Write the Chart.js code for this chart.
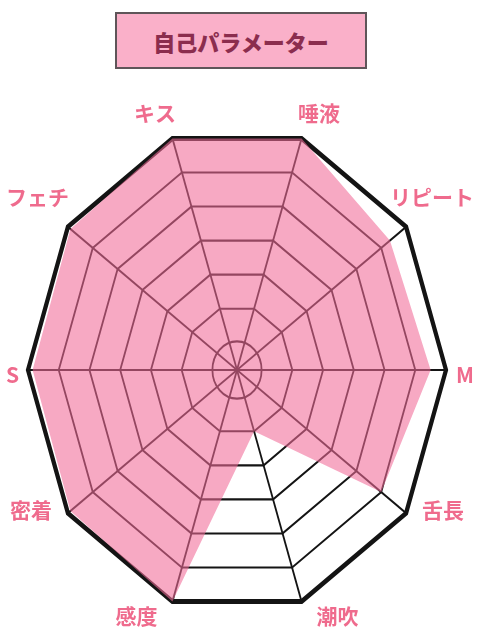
<!DOCTYPE html>
<html>
<head>
<meta charset="utf-8">
<script src="https://cdn.jsdelivr.net/npm/chart.js@4.4.1/dist/chart.umd.min.js"></script>
<style>
  html, body { margin: 0; padding: 0; background: #ffffff; }
  #wrap { position: relative; width: 480px; height: 640px; overflow: hidden; }
  #chartBox { position: absolute; left: 0; top: 0; width: 480px; height: 640px; }
  #title {
    position: absolute; left: 115px; top: 12px; width: 248px; height: 53px;
    background: #fab0c9; border: 2px solid #5f5559;
    color: #8b2d4e; font: 900 22px "Noto Sans CJK JP", sans-serif;
    display: flex; align-items: center; justify-content: center;
    z-index: 2;
  }
</style>
</head>
<body>
<div id="wrap">
  <div id="title">自己パラメーター</div>
  <div id="chartBox"><canvas id="c"></canvas></div>
</div>
<script>
// ---- data ----
const titleText = '自己パラメーター';
const categories = ['キス', '唾液', 'リピート', 'M', '舌長', '潮吹', '感度', '密着', 'S', 'フェチ'];
const selfValues = [7, 7, 6.35, 6.5, 6, 2, 7, 6.9, 6.85, 6.9];
const levelTicks = [0.2, 1, 2, 3, 4, 5, 6, 7];

// ---- style ----
const STRETCH = 1.165;
const LABEL_COLOR = '#ef6b8d';
const FILL = 'rgba(242,106,152,0.58)';

const stretchPlugin = {
  id: 'stretchAndLabels',
  beforeDraw(chart) {
    const sc = chart.scales.r;
    const ctx = chart.ctx;
    ctx.save();
    ctx.translate(0, sc.yCenter);
    ctx.scale(1, STRETCH);
    ctx.translate(0, -sc.yCenter);
  },
  afterDraw(chart) {
    const sc = chart.scales.r;
    const ctx = chart.ctx;
    ctx.restore();
    ctx.save();
    ctx.font = 'bold 21px "Noto Sans CJK JP", sans-serif';
    ctx.fillStyle = LABEL_COLOR;
    ctx.textAlign = 'center';
    ctx.textBaseline = 'middle';
    const W = chart.width, margin = 6, h = 20;
    chart.data.labels.forEach((txt, i) => {
      const p = sc.getPointPosition(i, sc.drawingArea);
      const vx = p.x;
      const vy = sc.yCenter + (p.y - sc.yCenter) * STRETCH;
      const a = sc.getIndexAngle(i);
      const s = Math.sin(a), c = Math.cos(a);
      const w = ctx.measureText(txt).width;
      const sg = Math.sign(Math.round(s * 1000));
      let dx, dy;
      if (c > 0.9) { dx = s * (w / 2 + 35); dy = -(h / 2 + 15); }
      else if (c > 0.3) { dx = sg * (w / 2 + 14); dy = -(h / 2 + 20); }
      else if (c > -0.3) { dx = sg * (w / 2 + 10); dy = 5; }
      else if (c > -0.9) { dx = sg * (w / 2 + 16); dy = -3; }
      else { dx = sg * (w / 2 + 15); dy = 14; }
      let x = vx + dx;
      x = Math.min(Math.max(x, margin + w / 2), W - margin - w / 2);
      ctx.fillText(txt, x, vy + dy);
    });
    ctx.restore();
  }
};

new Chart(document.getElementById('c'), {
  type: 'radar',
  data: {
    labels: categories,
    datasets: [{
      label: titleText,
      data: selfValues,
      backgroundColor: FILL,
      borderWidth: 0,
      borderColor: 'rgba(0,0,0,0)',
      pointRadius: 0,
      fill: true
    }]
  },
  options: {
    responsive: true,
    maintainAspectRatio: false,
    animation: false,
    layout: { padding: { left: 28, right: 34, top: 161, bottom: 61 } },
    plugins: { legend: { display: false }, tooltip: { enabled: false }, title: { display: false } },
    scales: {
      r: {
        min: 0.2,
        max: 7,
        startAngle: -18,
        afterBuildTicks: (scale) => { scale.ticks = levelTicks.map(v => ({ value: v })); },
        ticks: { display: false },
        pointLabels: { display: false },
        grid: {
          color: '#141414',
          lineWidth: (ctx) => ctx.index === levelTicks.length - 1 ? 4.2 : 1.8,
          circular: (ctx) => ctx.index === 1
        },
        angleLines: { color: '#141414', lineWidth: 1.8 }
      }
    }
  },
  plugins: [stretchPlugin]
});
</script>
</body>
</html>
